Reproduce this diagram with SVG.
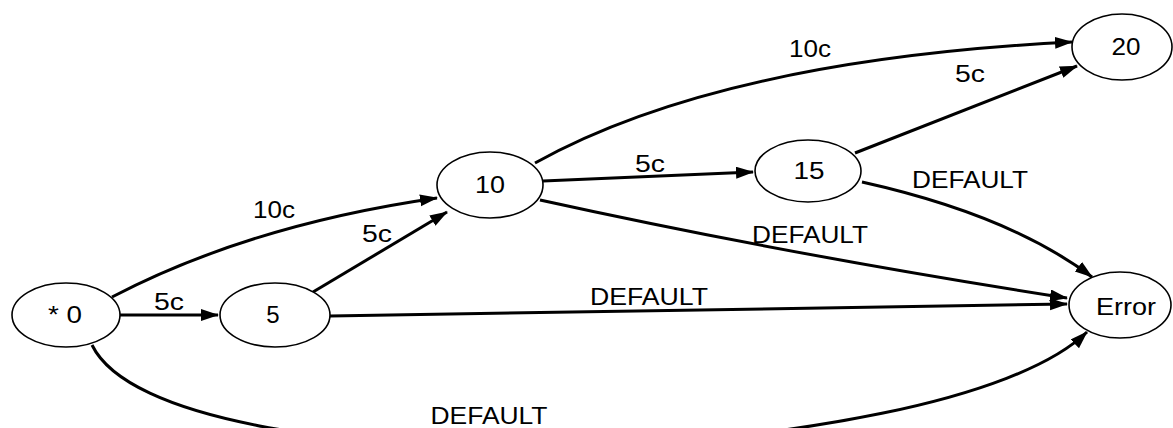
<svg xmlns="http://www.w3.org/2000/svg" width="1173" height="428" viewBox="0 0 1173 428">
<style>
.node ellipse{fill:#fff;stroke:#000;stroke-width:1.6}
text{font-family:"Liberation Sans",Arial,sans-serif;font-size:24px;fill:#000;text-anchor:middle}
.edge{fill:none;stroke:#000;stroke-width:3;marker-end:url(#ah)}
</style>
<defs>
<marker id="ah" markerUnits="userSpaceOnUse" markerWidth="20" markerHeight="14" refX="17" refY="6" orient="auto">
<path d="M0,0 L18,6 L0,12 z" fill="#000"/>
</marker>
</defs>
<rect width="1173" height="428" fill="#fff"/>
<g id="connectors">
<line class="edge" x1="120" y1="315" x2="218" y2="315"/>
<path class="edge" d="M112 297 Q250 225 437 198"/>
<line class="edge" x1="313" y1="292" x2="447" y2="212"/>
<line class="edge" x1="543" y1="181" x2="753" y2="172"/>
<path class="edge" d="M535 163 Q720 60 1072 42"/>
<line class="edge" x1="855" y1="153" x2="1077" y2="66"/>
<path class="edge" d="M862 182 Q1010 215 1092 277"/>
<path class="edge" d="M540 200 Q790 255 1067 298"/>
<line class="edge" x1="330" y1="316" x2="1067" y2="304"/>
<path class="edge" d="M92 345 C165 495 945 470 1087 332"/>
<text x="169" y="310" textLength="30" lengthAdjust="spacingAndGlyphs">5c</text>
<text x="274" y="218" textLength="42" lengthAdjust="spacingAndGlyphs">10c</text>
<text x="377" y="242" textLength="30" lengthAdjust="spacingAndGlyphs">5c</text>
<text x="650" y="172" textLength="30" lengthAdjust="spacingAndGlyphs">5c</text>
<text x="810" y="57" textLength="42" lengthAdjust="spacingAndGlyphs">10c</text>
<text x="970" y="82" textLength="30" lengthAdjust="spacingAndGlyphs">5c</text>
<text x="970" y="188" textLength="116" lengthAdjust="spacingAndGlyphs">DEFAULT</text>
<text x="810" y="243" textLength="116" lengthAdjust="spacingAndGlyphs">DEFAULT</text>
<text x="649" y="305" textLength="118" lengthAdjust="spacingAndGlyphs">DEFAULT</text>
<text x="489" y="424" textLength="117" lengthAdjust="spacingAndGlyphs">DEFAULT</text>
</g>
<g id="n0" class="node"><ellipse cx="66" cy="315" rx="54" ry="32"/><text x="65" y="323" textLength="34" lengthAdjust="spacingAndGlyphs">* 0</text></g>
<g id="n5" class="node"><ellipse cx="275" cy="315" rx="55" ry="32"/><text x="273" y="323">5</text></g>
<g id="n10" class="node"><ellipse cx="490" cy="185" rx="53" ry="33"/><text x="490" y="193" textLength="30" lengthAdjust="spacingAndGlyphs">10</text></g>
<g id="n15" class="node"><ellipse cx="808" cy="171" rx="53" ry="31"/><text x="809" y="179" textLength="31" lengthAdjust="spacingAndGlyphs">15</text></g>
<g id="n20" class="node"><ellipse cx="1122" cy="47" rx="50" ry="33"/><text x="1126" y="55" textLength="29" lengthAdjust="spacingAndGlyphs">20</text></g>
<g id="nErr" class="node"><ellipse cx="1120" cy="305" rx="51" ry="33"/><text x="1126" y="315" textLength="60" lengthAdjust="spacingAndGlyphs">Error</text></g>
</svg>
